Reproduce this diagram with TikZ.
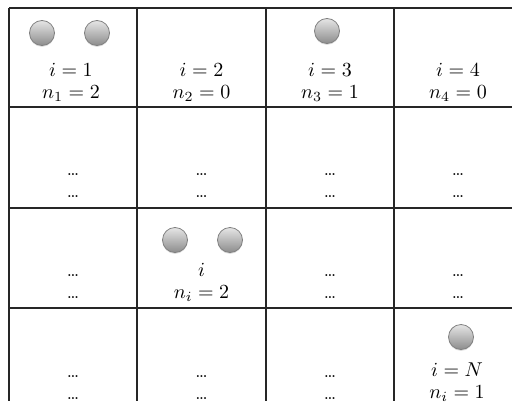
\documentclass[tikz,border=0pt]{standalone}
\usepackage{amsmath}
\usepackage{tikz}
\usetikzlibrary{shadows}
\tikzset{
  gridline/.style={draw=black!85, line width=0.7pt},
  ball/.style={circle, draw=black!50, top color=black!10, bottom color=black!45,
               inner sep=0pt, minimum size=12.5pt,
               drop shadow={opacity=0.25, shadow xshift=0pt, shadow yshift=-0.7pt}},
  cellT/.style={anchor=base, inner sep=0pt, font=\normalsize},
  dotsT/.style={anchor=base, inner sep=0pt, font=\small},
}

\begin{document}
\begin{tikzpicture}[x=0.5pt, y=-0.5pt]
    \useasboundingbox (0,0) rectangle (512,401);
    %% grid
    \foreach \y in {8,107,208,308}{
      \draw[gridline] (9,\y) -- (512,\y);
    }
    \foreach \x in {9,137,266,394}{
      \draw[gridline] (\x,8) -- (\x,401);
    }
    %% labels i and n_i
    \foreach \n/\x/\y/\up/\lo in {11/71/76/{i=1}/{n_1=2}, 12/201.5/76/{i=2}/{n_2=0},
                                 13/330/76/{i=3}/{n_3=1}, 14/458/76/{i=4}/{n_4=0},
                                 32/201.5/276/{i}/{n_i=2}, 44/457/376/{i=N}/{n_i=1}}{
      \node[cellT] (u\n) at (\x,\y) {$\up$};
      \node[cellT] (l\n) at (\x,\y+22) {$\lo$};
    }
    %% cells with dots
    \foreach \n/\x/\y in {21/73/175, 22/201.5/175, 23/330/175, 24/458/175,
                          31/73/276, 33/330/276, 34/458/276,
                          41/73/377, 42/201.5/377, 43/330/377}{
      \node[dotsT] (u\n) at (\x,\y) {\ldots};
      \node[dotsT] (l\n) at (\x,\y+22) {\ldots};
    }
    %% balls
    \foreach \n/\x/\y in {b11a/42/33, b11b/97/33, b13/327/31,
                          b32a/175/240, b32b/230/240, b44/461/337}{
      \node[ball] (\n) at (\x,\y) {};
    }
\end{tikzpicture}
\end{document}
